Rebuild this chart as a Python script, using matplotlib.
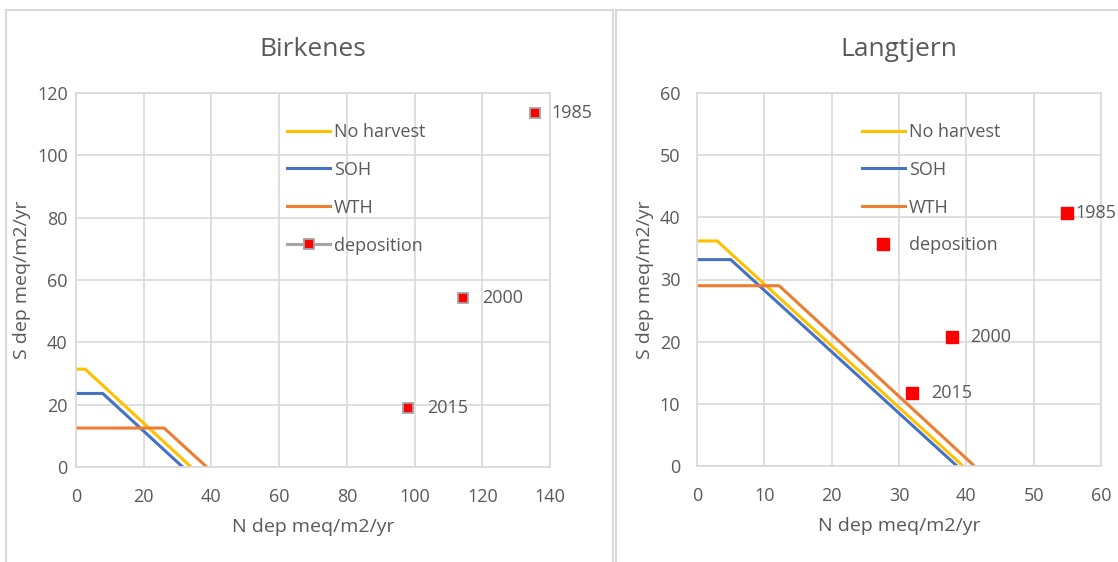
import matplotlib.pyplot as plt
from matplotlib.lines import Line2D
from matplotlib.patches import Rectangle

plt.rcParams['font.family'] = ['Open Sans', 'DejaVu Sans']

# --- data ---
years = ['1985', '2000', '2015']

birk_nh_x = [0, 2.7, 34.0]
birk_nh_y = [31.4, 31.4, 0]
birk_soh_x = [0, 7.9, 31.5]
birk_soh_y = [23.6, 23.6, 0]
birk_wth_x = [0, 26.0, 38.6]
birk_wth_y = [12.5, 12.5, 0]
birk_dep_x = [135.6, 114.3, 98.2]
birk_dep_y = [113.6, 54.2, 18.9]

lang_nh_x = [0, 3.0, 39.5]
lang_nh_y = [36.2, 36.2, 0]
lang_soh_x = [0, 5.0, 38.6]
lang_soh_y = [33.2, 33.2, 0]
lang_wth_x = [0, 12.2, 41.2]
lang_wth_y = [29.0, 29.0, 0]
lang_dep_x = [55.0, 37.8, 32.0]
lang_dep_y = [40.7, 20.7, 11.8]

YELLOW = '#ffc000'
BLUE = '#4472c4'
ORANGE = '#ed7d31'
RED = '#ff0000'
GRAY = '#a5a5a5'
GRID = '#d9d9d9'
TXT = '#595959'

fig = plt.figure(figsize=(11.18, 5.62), dpi=100)
W, H = 1118, 562


def px_axes(x0, x1, y0, y1):
    # pixel box -> figure fraction
    return fig.add_axes([x0 / W, 1 - y1 / H, (x1 - x0) / W, (y1 - y0) / H])


# panel borders
for (x0, x1) in [(6, 613), (616, 1140)]:
    fig.add_artist(Rectangle((x0 / W, -0.1), (x1 - x0) / W, 1 - 10 / H + 0.1,
                             transform=fig.transFigure, fill=False,
                             edgecolor=GRID, lw=1.5, clip_on=False))


def style_axes(ax, xmax, xstep, ymax, ystep, title, ypad):
    ax.set_xlim(0, xmax)
    ax.set_ylim(0, ymax)
    ax.set_xticks(range(0, xmax + 1, xstep))
    ax.set_yticks(range(0, ymax + 1, ystep))
    ax.grid(True, color=GRID, lw=1.2)
    ax.set_axisbelow(True)
    for s in ax.spines.values():
        s.set_color(GRID)
        s.set_linewidth(1.2)
    ax.tick_params(length=0, labelsize=13, colors=TXT)
    ax.tick_params(axis='x', pad=15)
    ax.tick_params(axis='y', pad=ypad)
    ax.set_xlabel('N dep meq/m2/yr', fontsize=14, color=TXT, labelpad=9)
    ax.set_ylabel('S dep meq/m2/yr', fontsize=14, color=TXT, labelpad=4)
    ax.set_title(title, fontsize=19, color=TXT, pad=27)


def make_legend(ax, handles, x_anchor):
    leg = ax.legend(handles, ['No harvest', 'SOH', 'WTH', 'deposition'],
                    loc='upper left', bbox_to_anchor=(x_anchor, 0.92), frameon=False,
                    fontsize=13, handlelength=2.4, handletextpad=0.2,
                    labelspacing=1.1, borderpad=0, borderaxespad=0)
    for t in leg.get_texts():
        t.set_color(TXT)
    return leg


# --- Birkenes ---
ax1 = px_axes(76, 550, 93, 467)
style_axes(ax1, 140, 20, 120, 20, 'Birkenes', 6)
ax1.plot(birk_nh_x, birk_nh_y, color=YELLOW, lw=2.2, solid_capstyle='butt')
ax1.plot(birk_soh_x, birk_soh_y, color=BLUE, lw=2.2, solid_capstyle='butt')
ax1.plot(birk_wth_x, birk_wth_y, color=ORANGE, lw=2.2, solid_capstyle='butt')
ax1.plot(birk_dep_x, birk_dep_y, ls='none', marker='s', ms=7.5,
         mfc=RED, mec=GRAY, mew=1.3, clip_on=False, zorder=5)
for x, y, yr in zip(birk_dep_x, birk_dep_y, years):
    dx = 12 if yr == '1985' else 13.5
    ax1.annotate(yr, (x, y), xytext=(dx, 0), textcoords='offset points',
                 va='center', ha='left', fontsize=13, color=TXT)
h1 = [Line2D([], [], color=YELLOW, lw=2.2),
      Line2D([], [], color=BLUE, lw=2.2),
      Line2D([], [], color=ORANGE, lw=2.2),
      Line2D([], [], color=GRAY, lw=2.2, marker='s', ms=7.5, mfc=RED, mec=GRAY, mew=1.3)]
make_legend(ax1, h1, 0.445)

# --- Langtjern ---
ax2 = px_axes(697, 1101, 93, 466)
style_axes(ax2, 60, 10, 60, 10, 'Langtjern', 12)
ax2.plot(lang_nh_x, lang_nh_y, color=YELLOW, lw=2.2, solid_capstyle='butt')
ax2.plot(lang_soh_x, lang_soh_y, color=BLUE, lw=2.2, solid_capstyle='butt')
ax2.plot(lang_wth_x, lang_wth_y, color=ORANGE, lw=2.2, solid_capstyle='butt')
ax2.plot(lang_dep_x, lang_dep_y, ls='none', marker='s', ms=9,
         mfc=RED, mec=RED, clip_on=False, zorder=5)
for x, y, yr in zip(lang_dep_x, lang_dep_y, years):
    dx = 6 if yr == '1985' else 13.5
    ax2.annotate(yr, (x, y), xytext=(dx, 0), textcoords='offset points',
                 va='center', ha='left', fontsize=13, color=TXT,
                 annotation_clip=False)
h2 = [Line2D([], [], color=YELLOW, lw=2.2),
      Line2D([], [], color=BLUE, lw=2.2),
      Line2D([], [], color=ORANGE, lw=2.2),
      Line2D([], [], ls='none', marker='s', ms=9, mfc=RED, mec=RED)]
make_legend(ax2, h2, 0.408)

fig.savefig('out.png', dpi=100)
